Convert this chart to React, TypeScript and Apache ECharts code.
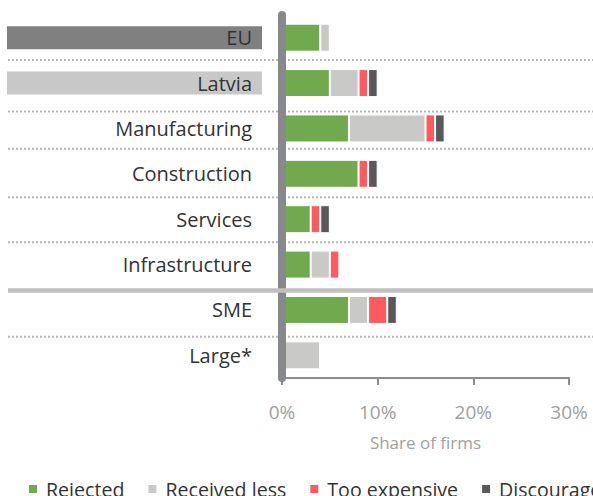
import React, { useEffect, useRef } from 'react';
import * as echarts from 'echarts';

const categories = ['EU', 'Latvia', 'Manufacturing', 'Construction', 'Services', 'Infrastructure', 'SME', 'Large*'];
const rejected = [4, 5, 7, 8, 3, 3, 7, 0];
const receivedLess = [1, 3, 8, 0, 0, 2, 2, 4];
const tooExpensive = [0, 1, 1, 1, 1, 1, 2, 0];
const discouraged = [0, 1, 1, 1, 1, 0, 1, 0];
const seriesNames = ['Rejected', 'Received less', 'Too expensive', 'Discouraged'];
const seriesColors = ['#71a94f', '#c9c9c7', '#ff5a5f', '#58595b'];
const xMin = 0;
const xMax = 30;
const xInterval = 10;

const FONT = 'Open Sans';

export default function App() {
  const ref = useRef<HTMLDivElement>(null);
  useEffect(() => {
    const chart = echarts.init(ref.current!, null, { renderer: 'svg' });
    const sepYs = [60, 111.5, 148.7, 197.3, 242.3, 336.7];
    const dotted = sepYs.map((y) => ({
      type: 'line',
      silent: true,
      z: -1,
      shape: { x1: 8, y1: y, x2: 593, y2: y },
      style: { stroke: '#b8b8b8', lineWidth: 2, lineDash: [2, 2] },
    }));
    const thick = {
      type: 'line',
      silent: true,
      z: 100,
      shape: { x1: 8, y1: 290.5, x2: 593, y2: 290.5 },
      style: { stroke: '#c0c0c0', lineWidth: 4.5 },
    };
    const data = [rejected, receivedLess, tooExpensive, discouraged];
    chart.setOption({
      animation: false,
      textStyle: { fontFamily: FONT },
      grid: { left: 282, right: 24, top: 15, bottom: 118, containLabel: false },
      legend: {
        left: 27,
        top: 479,
        width: 1000,
        padding: 0,
        icon: 'rect',
        itemWidth: 10,
        itemHeight: 10,
        itemGap: 22,
        data: seriesNames,
        textStyle: { fontFamily: FONT, fontSize: 19.6, color: '#333', padding: [0, 0, 0, 3] },
      },
      graphic: { elements: [...dotted, thick] },
      xAxis: {
        type: 'value',
        min: xMin,
        max: xMax,
        interval: xInterval,
        axisLine: { show: true, lineStyle: { color: '#8c8c8c', width: 2 } },
        axisTick: { show: true, length: 7, lineStyle: { color: '#8c8c8c', width: 2 } },
        axisLabel: { formatter: '{value}%', color: '#a0a0a0', fontSize: 19, margin: 24, fontFamily: FONT },
        splitLine: { show: false },
        name: 'Share of firms',
        nameLocation: 'middle',
        nameGap: 56,
        nameTextStyle: { color: '#a0a0a0', fontSize: 17, fontFamily: FONT },
      },
      yAxis: {
        type: 'category',
        z: 10,
        data: categories,
        inverse: true,
        axisLine: { show: true, lineStyle: { color: '#87898c', width: 8 } },
        axisTick: { show: false },
        splitLine: { show: false },
        axisLabel: {
          margin: 20,
          formatter: (v: string) => (v === 'EU' ? `{eu|${v}}` : v === 'Latvia' ? `{lv|${v}}` : `{n|${v}}`),
          rich: {
            eu: {
              backgroundColor: '#808080', width: 245, height: 23, lineHeight: 23, align: 'right',
              padding: [0, 10, 0, 0], fontSize: 20, fontFamily: FONT, color: '#333333',
            },
            lv: {
              backgroundColor: '#c8c8c8', width: 245, height: 23, lineHeight: 23, align: 'right',
              padding: [0, 10, 0, 0], fontSize: 20, fontFamily: FONT, color: '#333333',
            },
            n: { fontSize: 20, fontFamily: FONT, color: '#333333', padding: [0, 10, 0, 0] },
          },
        },
      },
      series: seriesNames.map((name, i) => ({
        name,
        type: 'bar',
        stack: 'total',
        barWidth: 28,
        data: data[i],
        itemStyle: { color: seriesColors[i], borderColor: '#ffffff', borderWidth: 1 },
      })),
    });
    return () => chart.dispose();
  }, []);
  return <div ref={ref} style={{ position: 'absolute', left: 0, top: 0, width: 593, height: 496 }} />;
}
